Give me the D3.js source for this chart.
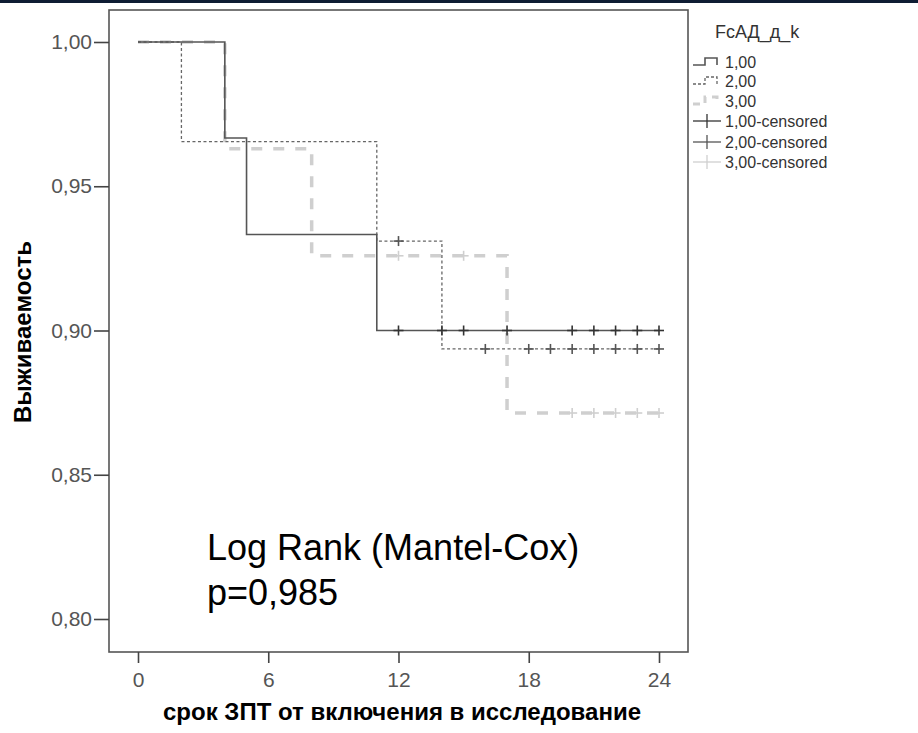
<!DOCTYPE html>
<html>
<head>
<meta charset="utf-8">
<script src="https://cdnjs.cloudflare.com/ajax/libs/d3/7.8.5/d3.min.js"></script>
<style>
  body { margin: 0; background: #fff; }
  svg text { font-family: "Liberation Sans", Arial, sans-serif; }
</style>
</head>
<body>
<script>
var width = 918,
    height = 733;

// survival steps per group (time, survival)
var times1 = [0, 4, 5, 11, 24],
    surv1 = [1.0, 0.9667, 0.9333, 0.90, 0.90];
var times2 = [0, 2, 11, 14, 24],
    surv2 = [1.0, 0.9655, 0.931, 0.8936, 0.8936];
var times3 = [0, 4, 8, 17, 24],
    surv3 = [1.0, 0.963, 0.9259, 0.8714, 0.8714];

// censored times
var cens1 = [12, 14, 15, 17, 20, 21, 22, 23, 24];
var cens2 = [12, 16, 18, 19, 20, 21, 22, 23, 24];
var cens3 = [12, 15, 20, 21, 22, 23, 24];

var xTicks = [0, 6, 12, 18, 24];
var yTicks = [0.80, 0.85, 0.90, 0.95, 1.00];

var legendTitle = "FcАД_д_k";
var legendLabels = ["1,00", "2,00", "3,00", "1,00-censored", "2,00-censored", "3,00-censored"];

var frame = {left: 109, top: 10, right: 688, bottom: 652};

var x = d3.scaleLinear().domain([0, 24]).range([138, 659]);
var y = d3.scaleLinear().domain([0.80, 1.00]).range([619, 42]);

var fmt = function(d) { return d3.format(".2f")(d).replace(".", ","); };

var svg = d3.select("body").append("svg")
    .attr("width", width)
    .attr("height", height);

svg.append("rect").attr("width", width).attr("height", height).attr("fill", "#fff");
svg.append("rect").attr("width", width).attr("height", 3).attr("fill", "#0e1c33");

// frame
svg.append("rect")
    .attr("x", frame.left).attr("y", frame.top)
    .attr("width", frame.right - frame.left)
    .attr("height", frame.bottom - frame.top)
    .attr("fill", "none")
    .attr("stroke", "#555")
    .attr("stroke-width", 1.6);

// axes
var yAxis = svg.append("g")
    .attr("transform", "translate(" + frame.left + ",0)")
    .call(d3.axisLeft(y).tickValues(yTicks).tickFormat(fmt).tickSize(15).tickPadding(2));
var xAxis = svg.append("g")
    .attr("transform", "translate(0," + frame.bottom + ")")
    .call(d3.axisBottom(x).tickValues(xTicks).tickSize(11).tickPadding(9));

[yAxis, xAxis].forEach(function(g) {
    g.select(".domain").remove();
    g.selectAll(".tick line").attr("stroke", "#444").attr("stroke-width", 1.6);
    g.selectAll(".tick text")
        .attr("fill", "#555")
        .style("font-size", "21px")
        .style("font-family", "'Liberation Sans', Arial, sans-serif");
});

// axis titles
svg.append("text")
    .attr("x", 402).attr("y", 720)
    .attr("text-anchor", "middle")
    .style("font-size", "24px").style("font-weight", "bold")
    .text("срок ЗПТ от включения в исследование");

svg.append("text")
    .attr("transform", "translate(31,332)rotate(-90)")
    .attr("text-anchor", "middle")
    .style("font-size", "24px").style("font-weight", "bold")
    .text("Выживаемость");

// curves
var line = d3.line()
    .curve(d3.curveStepAfter)
    .x(function(d) { return x(d[0]); })
    .y(function(d) { return y(d[1]); });

var groups = [
    {t: times1, s: surv1, c: cens1, stroke: "#555", w: 1.6, dash: null, cross: "#333"},
    {t: times2, s: surv2, c: cens2, stroke: "#666", w: 1.3, dash: "3,2.5", cross: "#555"},
    {t: times3, s: surv3, c: cens3, stroke: "#cfcfcf", w: 3.5, dash: "11,11", cross: "#cfcfcf"}
];

function survAt(g, t) {
    var v = g.s[0];
    for (var i = 0; i < g.t.length; i++) if (g.t[i] <= t) v = g.s[i];
    return v;
}

// draw in reverse so group 1 sits on top
groups.slice().reverse().forEach(function(g) {
    svg.append("path")
        .datum(d3.zip(g.t, g.s))
        .attr("d", line)
        .attr("fill", "none")
        .attr("stroke", g.stroke)
        .attr("stroke-width", g.w)
        .attr("stroke-dasharray", g.dash);
});

groups.slice().reverse().forEach(function(g) {
    var cg = svg.append("g").attr("stroke", g.cross).attr("stroke-width", 1.6);
    g.c.forEach(function(t) {
        var cx = x(t), cy = y(survAt(g, t));
        cg.append("line").attr("x1", cx - 5).attr("x2", cx + 5).attr("y1", cy).attr("y2", cy);
        cg.append("line").attr("x1", cx).attr("x2", cx).attr("y1", cy - 5).attr("y2", cy + 5);
    });
});

// log rank note
var note = svg.append("text").style("font-size", "36px").attr("fill", "#000");
note.append("tspan").attr("x", 207).attr("y", 560).text("Log Rank (Mantel-Cox)");
note.append("tspan").attr("x", 207).attr("y", 605).text("p=0,985");

// legend
var lg = svg.append("g");
lg.append("text")
    .attr("x", 715).attr("y", 38)
    .style("font-size", "18px").attr("fill", "#333")
    .text(legendTitle);

var rows = [62, 81, 101, 121, 142, 162];
legendLabels.forEach(function(lab, i) {
    var ry = rows[i];
    if (i < 3) {
        var g = groups[i];
        lg.append("path")
            .attr("d", "M693," + (ry + 3) + "H705V" + (ry - 4) + "H717V" + (ry + 3))
            .attr("fill", "none")
            .attr("stroke", g.stroke)
            .attr("stroke-width", i === 2 ? 3 : g.w)
            .attr("stroke-dasharray", i === 1 ? "3,2" : (i === 2 ? "7,6" : null));
    } else {
        var col = groups[i - 3].cross;
        lg.append("line").attr("x1", 693).attr("x2", 721).attr("y1", ry).attr("y2", ry)
            .attr("stroke", col).attr("stroke-width", 1.3);
        lg.append("line").attr("x1", 707).attr("x2", 707).attr("y1", ry - 7).attr("y2", ry + 7)
            .attr("stroke", col).attr("stroke-width", 1.3);
    }
    lg.append("text")
        .attr("x", 725).attr("y", ry + 6)
        .style("font-size", "16px").attr("fill", "#333")
        .text(lab);
});
</script>
</body>
</html>
